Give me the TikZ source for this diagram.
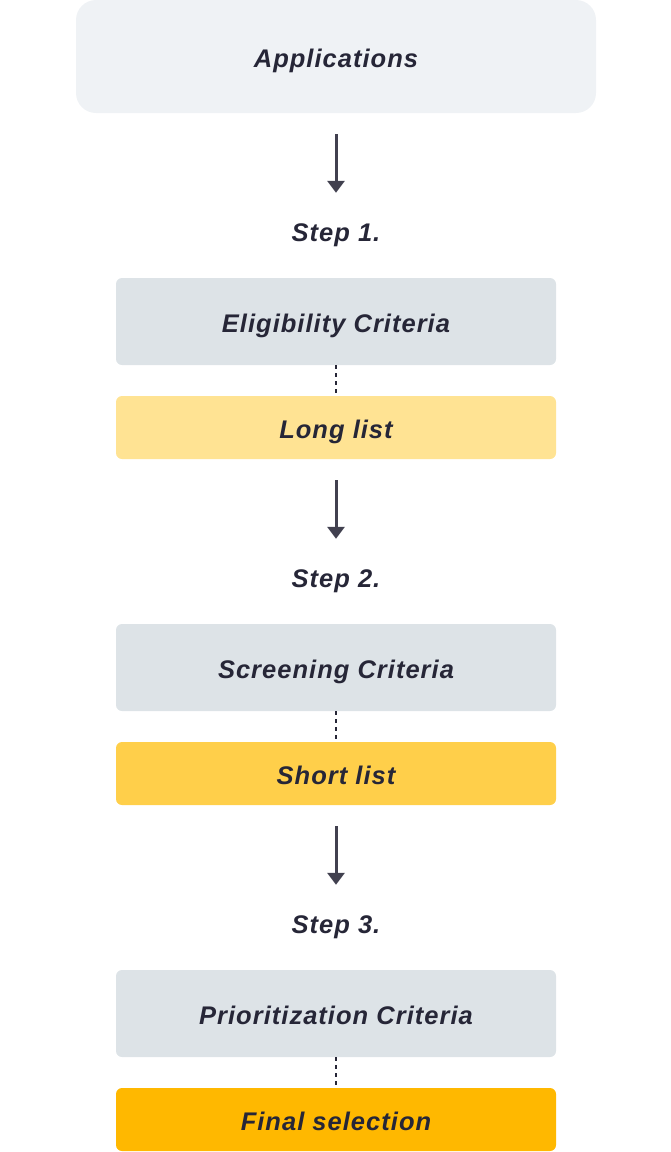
\documentclass[tikz,border=0pt]{standalone}
\usepackage{fontspec}
\setmainfont{Liberation Sans}
\usetikzlibrary{arrows.meta,positioning}

\definecolor{inkc}{HTML}{262637}
\definecolor{arrc}{HTML}{41404F}
\definecolor{appfill}{HTML}{EFF2F5}
\definecolor{critfill}{HTML}{DDE3E7}
\definecolor{longfill}{HTML}{FFE393}
\definecolor{shortfill}{HTML}{FFCF4A}
\definecolor{finalfill}{HTML}{FFB800}

\begin{document}
\begin{tikzpicture}[
  x=1pt, y=-1pt,
  font=\fontsize{25.5}{30}\selectfont\bfseries\itshape\addfontfeatures{LetterSpace=4},
  text=inkc,
  every node/.style={text height=21pt, text depth=0pt},
  crit/.style={rounded corners=6pt, fill=critfill, minimum width=440pt, minimum height=87pt, inner sep=0pt},
  listbox/.style={rounded corners=6pt, minimum width=440pt, minimum height=63pt, inner sep=0pt},
  steplbl/.style={minimum height=76pt, inner sep=0pt},
  arr/.style={-{Triangle[length=12pt,width=17pt]}, line width=3pt, draw=arrc},
  link/.style={line width=2.5pt, draw=inkc, dash pattern=on 4pt off 4pt}
]
\useasboundingbox (0,0) rectangle (670,1152);

\node[rounded corners=20pt, fill=appfill, minimum width=520pt, minimum height=113pt, inner sep=0pt] (app) at (336,56.5) {Applications};

% step 1
\node[steplbl] (step1) at (336,231) {Step 1.};
\node[crit] (elig) at (336,321.5) {Eligibility Criteria};
\node[listbox, fill=longfill] (long) at (336,427.5) {Long list};

% step 2
\node[steplbl] (step2) at (336,577) {Step 2.};
\node[crit] (screen) at (336,667.5) {Screening Criteria};
\node[listbox, fill=shortfill] (short) at (336,773.5) {Short list};

% step 3
\node[steplbl] (step3) at (336,923) {Step 3.};
\node[crit] (prio) at (336,1013.5) {Prioritization Criteria};
\node[listbox, fill=finalfill] (final) at (336,1119.5) {Final selection};

\draw[arr] ([yshift=-21pt]app.south) -- (step1.north);
\draw[arr] ([yshift=-21pt]long.south) -- (step2.north);
\draw[arr] ([yshift=-21pt]short.south) -- (step3.north);

\draw[link] (elig.south) -- (long.north);
\draw[link] (screen.south) -- (short.north);
\draw[link] (prio.south) -- (final.north);
\end{tikzpicture}
\end{document}
